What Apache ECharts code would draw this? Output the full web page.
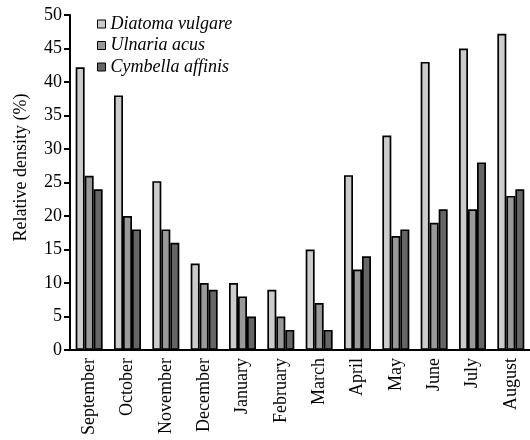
<!DOCTYPE html>
<html><head><meta charset="utf-8">
<script src="https://cdn.jsdelivr.net/npm/echarts@6/dist/echarts.min.js"></script>
<style>html,body{margin:0;padding:0;background:#fff}#c{width:530px;height:440px}</style>
</head><body><div id="c"></div>
<script>
const months = ['September','October','November','December','January','February','March','April','May','June','July','August'];
const diatomaVulgare = [42.2, 38, 25.2, 12.9, 10, 9, 15, 26.1, 32, 43, 45, 47.2];
const ulnariaAcus = [26, 20, 18, 10, 8, 5, 7, 12, 17, 19, 21, 23];
const cymbellaAffinis = [24, 18, 16, 9, 5, 3, 3, 14, 18, 21, 28, 24];
const yTicks = [0,5,10,15,20,25,30,35,40,45,50];
const seriesNames = ['Diatoma vulgare','Ulnaria acus','Cymbella affinis'];
const colors = ['#cccccc','#999999','#666666'];
const font = '"Liberation Serif", "Times New Roman", Times, serif';
const chart = echarts.init(document.getElementById('c'));
const mk = (name, data, color) => ({
  name, type:'bar', data, barWidth:9, barGap:'0%',
  itemStyle:{color, borderColor:'#000', borderWidth:1.7},
  emphasis:{disabled:true}
});
chart.setOption({
  animation:false,
  grid:{left:70, right:0, top:15, bottom:90, containLabel:false},
  legend:{
    orient:'vertical', left:92, top:10, itemGap:3.5, itemSpacing:7,
    itemWidth:8, itemHeight:8, icon:'rect',
    itemStyle:{borderColor:'#000', borderWidth:1},
    textStyle:{fontFamily:font, fontStyle:'italic', fontSize:18, color:'#000'},
    data:seriesNames
  },
  xAxis:{
    type:'category', data:months,
    axisLine:{lineStyle:{color:'#000', width:2}},
    axisTick:{length:6, lineStyle:{color:'#000', width:2}},
    axisLabel:{rotate:90, fontFamily:font, fontSize:18, color:'#000', margin:8}
  },
  yAxis:{
    type:'value', min:yTicks[0], max:yTicks[yTicks.length-1], interval:5,
    name:'Relative density (%)', nameLocation:'middle', nameGap:40,
    nameTextStyle:{fontFamily:font, fontSize:18, color:'#000', padding:[0,0,0,30]},
    axisLine:{show:true, lineStyle:{color:'#000', width:2}},
    axisTick:{show:true, length:6, lineStyle:{color:'#000', width:2}},
    splitLine:{show:false},
    axisLabel:{fontFamily:font, fontSize:18, color:'#000', margin:8}
  },
  series:[mk(seriesNames[0], diatomaVulgare, colors[0]), mk(seriesNames[1], ulnariaAcus, colors[1]), mk(seriesNames[2], cymbellaAffinis, colors[2])]
});
</script></body></html>
